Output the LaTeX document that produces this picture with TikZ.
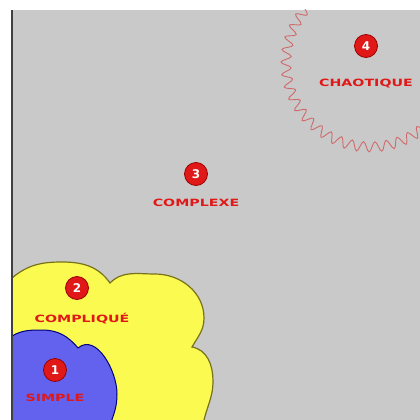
\documentclass[tikz,border=0pt]{standalone}
\usepackage{fontspec}
\usepackage{tikz}
\usetikzlibrary{positioning,decorations.pathmorphing}
\newfontfamily\zonefont{DejaVu Sans}
\definecolor{zonered}{HTML}{E01818}
\definecolor{bggray}{HTML}{C9C9C9}
\definecolor{cloudyellow}{HTML}{FAFA50}
\definecolor{cloudblue}{HTML}{6262EE}
\definecolor{chaosred}{HTML}{D06A6A}
\newcommand{\zonetext}[1]{\scalebox{1.42}[1]{#1}}

\begin{document}
\begin{tikzpicture}[x=1pt, y=-1pt,
    num/.style={circle, fill=zonered, draw=red!60!black, line width=0.8pt,
        minimum size=23pt, inner sep=0pt, text=white, font=\zonefont\bfseries\fontsize{12}{12}\selectfont},
    zone/.style={text=zonered, inner sep=0pt, font=\zonefont\bfseries\fontsize{10}{10}\selectfont}]

    \useasboundingbox (0,0) rectangle (420,420);
    \fill[bggray] (12,10) rectangle (420,420);

    \begin{scope}
    \clip (12,10) rectangle (420,420);

    % yellow cloud
    \draw[fill=cloudyellow, draw=olive!80!black, line width=1.2pt]
        (12,278) to[out=40,in=180] (62,262) to[out=0,in=125] (110,283)
        to[out=45,in=180] (155,274) to[out=0,in=90] (204,318)
        to[out=-90,in=60] (192,347) to[out=-10,in=90] (213,381)
        to[out=-90,in=80] (203,425) -- (5,425) -- (5,278) -- cycle;

    % blue cloud
    \draw[fill=cloudblue, draw=blue!50!black, line width=1pt]
        (12,336) to[out=30,in=180] (42,330) to[out=0,in=130] (78,348)
        to[out=40,in=90] (117,394) to[out=-90,in=70] (110,425)
        -- (5,425) -- (5,336) -- cycle;

    % chaotic border
    \draw[chaosred, line width=0.9pt, decorate,
        decoration={snake, amplitude=5pt, segment length=12pt}]
        (370,60) circle (84);
    \end{scope}

    \draw[black!75, line width=1.5pt] (12,10) -- (12,420);

    \node[num] (n1) at (55,370) {1};
    \node[num] (n2) at (77,288) {2};
    \node[num] (n3) at (196,174) {3};
    \node[num] (n4) at (366,46) {4};

    \node[zone, below=12pt of n1] (simple) {\zonetext{SIMPLE}};
    \node[zone, below=13pt of n2, xshift=5pt] (complique) {\zonetext{COMPLIQUÉ}};
    \node[zone, below=13pt of n3] (complexe) {\zonetext{COMPLEXE}};
    \node[zone, below=21pt of n4] (chaotique) {\zonetext{CHAOTIQUE}};
\end{tikzpicture}
\end{document}
